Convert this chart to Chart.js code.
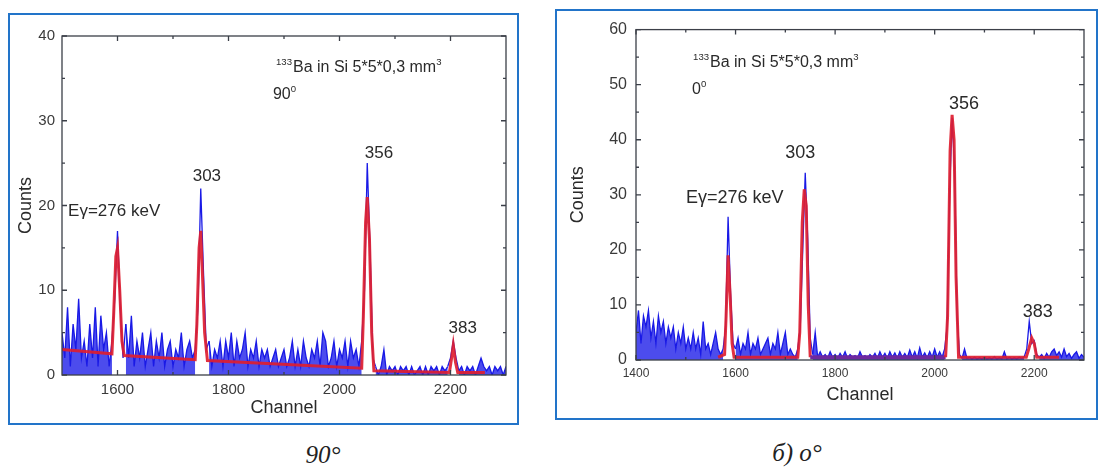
<!DOCTYPE html>
<html><head><meta charset="utf-8">
<script src="https://cdn.jsdelivr.net/npm/chart.js@4.4.0/dist/chart.umd.min.js"></script>
<style>
html,body{margin:0;padding:0;background:#fff;width:1105px;height:467px;overflow:hidden;position:relative;font-family:'Liberation Sans',Arial,sans-serif}
.frame{position:absolute;border:2px solid #2274c9;background:#fff}
#f1{left:8px;top:13px;width:507px;height:408px}
#f2{left:555px;top:9px;width:539px;height:407px}
canvas{display:block}
.cap{position:absolute;font-family:'Liberation Serif','DejaVu Serif',serif;font-style:italic;font-size:25px;color:#222;transform:translate(-50%,-50%);white-space:nowrap}
</style></head><body>
<div class="frame" id="f1"><canvas id="c1" width="507" height="408"></canvas></div>
<div class="frame" id="f2"><canvas id="c2" width="539" height="407"></canvas></div>
<div class="cap" style="left:323px;top:455px">90°</div>
<div class="cap" style="left:797px;top:453px">б) o°</div>
<script>
// ---------- DATA: left panel (90°) ----------
const leftStart = 1500, leftStep = 5;           // channel of first sample, channel spacing
const leftCounts = [
  5,2,8,1,6,3,9,2,4,1,6,2,8,1,7,3,5,1,4,9,          // 1500-1595
  17,8,2,6,2,7,1,4,2,5,1,3,5,1,4,2,5,1,3,4,         // 1600-1695
  1,3,2,5,1,3,4,2,3,8,22,12,3,4,1,3,2,4,1,4,        // 1700-1795
  2,5,1,4,2,3,5,1,3,2,4,1,3,2,3,1,2,3,1,2,          // 1800-1895
  3,1,2,4,1,3,1,4,2,1,3,2,4,1,5,4,1,2,4,1,          // 1900-1995
  3,2,4,1,4,2,3,1,4,10,25,15,2,1,0,1,3,0,1,0.5,     // 2000-2095
  1,0,1,0.5,1,0,1,0,0.5,1,0,1,0,1,0.5,1,0,1,0.5,1,  // 2100-2195
  2,4,2,0.5,1,0,1,0.5,1,0,1,2,1,0.5,1,0,1,0.5,1,0,  // 2200-2295
  1                                                 // 2300
];
const leftFitChannels = [1500,1590,1593,1597,1600,1604,1608,1612,1740,1743,1747,1750,1753,1757,1762,2040,2043,2047,2050,2054,2058,2062,2198,2202,2205,2209,2213,2262];
const leftFitCounts   = [3.0,2.5,7,14,15,10,4,2.3,1.8,6,15,17,12,5,1.7,0.8,7,18,21,16,5,0.5,0.3,2,3.5,1.5,0.3,0.3];
const leftPeakRanges = [[1590,1612],[1740,1762],[2040,2062],[2198,2213]];
const leftXTicks = [1600,1800,2000,2200];
const leftXMinor = [1700,1900,2100];
const leftYTicks = [0,10,20,30,40];
const leftYMinor = [5,15,25,35];
const leftPeakLabels = ['Eγ=276 keV','303','356','383'];
const leftPeakLabelAt = [[1511,19.35],[1761,23.4],[2071,26.1],[2222,5.5]];

// ---------- DATA: right panel (0°) ----------
const rightStart = 1400, rightStep = 5;
const rightCounts = [
  5,9,3,8,6,9,4,7,3,8,5,7,3,6,4,6,2,5,3,6,                                  // 1400-1495
  2,4,2,5,2,4,1,7,2,3,1,3,5,2,1,2,6,26,12,3,                                // 1500-1595
  2,4,1,3,2,5,1,3,2,4,1,2,3,4,1,3,2,5,1,3,                                  // 1600-1695
  5,1,2,1,0.5,2,6,20,34,22,4,1,5,0.5,1.5,0.5,1,0.3,1.5,0.5,                 // 1700-1795
  1,0.3,1.2,0.5,1.5,0.3,1,0.5,0.8,0.3,1.5,0.5,0.8,0.3,1,0.5,1.2,0.3,1.5,0.5,// 1800-1895
  1.2,0.3,1.5,0.5,1.3,0.3,1.5,0.5,1.2,0.4,1.8,0.5,1.5,0.3,2.2,0.5,1.3,0.4,1.5,0.5, // 1900-1995
  2,0.5,1.5,0.5,2,6,30,44,35,8,1,0.3,2,0.3,0.5,0.2,0.5,0.2,0.4,0.2,          // 2000-2095
  0.5,0.2,0.4,0.2,0.6,0.2,0.4,0.2,1.5,0.2,0.5,0.2,0.4,0.2,0.5,0.3,0.6,2,7,3, // 2100-2195
  3.5,1,0.5,1,0.3,1.2,0.5,1.5,2,0.8,1.5,0.5,2,0.6,1.2,0.3,1,1.5,0.3,1,       // 2200-2295
  0.5                                                                        // 2300
];
const rightFitChannels = [1565,1578,1581,1585,1589,1593,1597,1725,1729,1734,1738,1742,1746,1750,2022,2026,2031,2035,2039,2043,2048,2184,2189,2195,2200,2205,2250];
const rightFitCounts   = [0.5,1,8,19,12,3,0.5,0.5,5,25,31,28,10,0.5,0.5,8,38,44.5,40,15,0.5,0.5,2,4,3,0.5,0.5];
const rightPeakRanges = [[1575,1600],[1725,1752],[2020,2052],[2183,2207]];
const rightXTicks = [1400,1600,1800,2000,2200];
const rightXMinor = [1500,1700,1900,2100];
const rightYTicks = [0,10,20,30,40,50,60];
const rightYMinor = [5,15,25,35,45,55];
const rightPeakLabels = ['Eγ=276 keV','303','356','383'];
const rightPeakLabelAt = [[1500.5,29.4],[1730,37.5],[2059,46.5],[2207,8.8]];

// ---------- helpers ----------
const FONT = "'Liberation Sans', Arial, sans-serif";
function spectrum(start, step, vals) { return vals.map((v, i) => ({x: start + i * step, y: v})); }
function pairs(xs, ys) { return xs.map((x, i) => ({x, y: ys[i]})); }

function framePlugin(cfg) {
  return {
    id: 'frameTicks',
    afterDatasetsDraw(chart) {
      const {ctx, chartArea: a} = chart;
      const xs = chart.scales.x, ys = chart.scales.y;
      ctx.save();
      ctx.strokeStyle = '#3b3f48'; ctx.lineWidth = 1.3;
      ctx.strokeRect(a.left, a.top, a.right - a.left, a.bottom - a.top);
      ctx.beginPath();
      const vx = (vals, len) => vals.forEach(v => { const p = xs.getPixelForValue(v);
        ctx.moveTo(p, a.bottom); ctx.lineTo(p, a.bottom - len); ctx.moveTo(p, a.top); ctx.lineTo(p, a.top + len); });
      const vy = (vals, len) => vals.forEach(v => { const p = ys.getPixelForValue(v);
        ctx.moveTo(a.left, p); ctx.lineTo(a.left + len, p); ctx.moveTo(a.right, p); ctx.lineTo(a.right - len, p); });
      vx(cfg.xMajor, 5); vx(cfg.xMinor, 3); vy(cfg.yMajor, 5); vy(cfg.yMinor, 3);
      ctx.stroke();
      ctx.fillStyle = '#2a2a2a';
      cfg.labels.forEach((t, i) => {
        const [cx, cy] = cfg.labelAt[i];
        ctx.font = cfg.labelSize + 'px ' + FONT;
        ctx.textAlign = i === 0 ? 'left' : 'center'; ctx.textBaseline = 'middle';
        ctx.fillText(t, xs.getPixelForValue(cx), ys.getPixelForValue(cy));
      });
      cfg.rich.forEach(r => {
        let px = xs.getPixelForValue(r.x); const py = ys.getPixelForValue(r.y);
        ctx.textAlign = 'left'; ctx.textBaseline = 'alphabetic';
        r.parts.forEach(p => {
          const size = p.sup ? r.size * 0.6 : r.size;
          ctx.font = size + 'px ' + FONT;
          ctx.fillText(p.t, px, p.sup ? py - r.size * 0.45 : py);
          px += ctx.measureText(p.t).width + (p.sup ? 1 : 0);
        });
      });
      ctx.restore();
    }
  };
}

function makeChart(id, o) {
  const blue = 'rgb(25,25,230)';
  const inPurple = c => o.purple && c.p0.parsed.x >= o.purple[0] && c.p1.parsed.x <= o.purple[1];
  const inPeak = c => o.peaks.some(r => c.p1.parsed.x > r[0] && c.p0.parsed.x < r[1]);
  return new Chart(document.getElementById(id), {
    type: 'line',
    data: { datasets: [
      { data: o.fit, borderColor: 'rgba(222,30,48,0.92)', borderWidth: 3, pointRadius: 0, tension: 0, order: 1, fill: false,
        segment: { borderColor: c => inPurple(c) ? 'rgb(110,40,160)' : undefined,
                   borderWidth: c => inPurple(c) ? 4 : undefined } },
      { data: o.spec, borderColor: blue, borderWidth: 1.3, pointRadius: 0, tension: 0, order: 2,
        fill: 'origin', backgroundColor: 'rgba(25,25,232,0.78)',
        segment: { backgroundColor: c => inPeak(c) ? 'rgba(255,255,255,0)' : undefined } }
    ]},
    options: {
      responsive: false, animation: false, events: [],
      layout: { padding: o.pad },
      plugins: { legend: { display: false }, tooltip: { enabled: false }, filler: { propagate: false } },
      scales: {
        x: { type: 'linear', min: o.xMin, max: o.xMax,
             afterBuildTicks: s => { s.ticks = o.xTicks.map(v => ({value: v})); },
             afterFit: s => { s.height = o.xH; },
             grid: { display: false, drawTicks: false }, border: { display: false },
             ticks: { font: { family: FONT, size: o.xFont }, color: '#3a3a3a', padding: o.xPad, maxRotation: 0, autoSkip: false,
                      callback: v => String(v) },
             title: { display: true, text: 'Channel', font: { family: FONT, size: 18 }, color: '#2a2a2a', padding: { top: 0, bottom: o.xTitlePad } } },
        y: { type: 'linear', min: o.yMin, max: o.yMax,
             afterBuildTicks: s => { s.ticks = o.yTicks.map(v => ({value: v})); },
             afterFit: s => { s.width = o.yW; },
             grid: { display: false, drawTicks: false }, border: { display: false },
             ticks: { font: { family: FONT, size: o.yFont }, color: '#3a3a3a', padding: o.yPad, callback: v => String(v) },
             title: { display: true, text: 'Counts', font: { family: FONT, size: 18 }, color: '#2a2a2a', padding: { top: o.yTitlePad, bottom: 0 } } }
      }
    },
    plugins: [framePlugin(o.frame)]
  });
}

makeChart('c1', {
  spec: spectrum(leftStart, leftStep, leftCounts), fit: pairs(leftFitChannels, leftFitCounts), peaks: leftPeakRanges,
  pad: { top: 21, right: 11, left: 0, bottom: 0 }, xH: 48, yW: 52,
  xMin: 1500, xMax: 2300, yMin: 0, yMax: 40, xTicks: leftXTicks, yTicks: leftYTicks,
  xFont: 15, xPad: 6, yFont: 15, yPad: 7, xTitlePad: 4, yTitlePad: 5,
  frame: { xMajor: leftXTicks, xMinor: leftXMinor, yMajor: leftYTicks, yMinor: leftYMinor,
    labels: leftPeakLabels, labelAt: leftPeakLabelAt, labelSize: 17,
    rich: [ { x: 1885.6, y: 35.75, size: 16, parts: [{t:'133', sup:true},{t:'Ba in Si 5*5*0,3 mm'},{t:'3', sup:true}] },
            { x: 1880, y: 32.6, size: 16, parts: [{t:'90'},{t:'0', sup:true}] } ] }
});

makeChart('c2', {
  spec: spectrum(rightStart, rightStep, rightCounts), fit: pairs(rightFitChannels, rightFitCounts), peaks: rightPeakRanges,
  purple: [1748, 2024],
  pad: { top: 16, right: 12, left: 0, bottom: 0 }, xH: 58, yW: 79,
  xMin: 1400, xMax: 2300, yMin: 0, yMax: 60, xTicks: rightXTicks, yTicks: rightYTicks,
  xFont: 12, xPad: 6, yFont: 16, yPad: 9, xTitlePad: 12, yTitlePad: 10,
  frame: { xMajor: rightXTicks, xMinor: rightXMinor, yMajor: rightYTicks, yMinor: rightYMinor,
    labels: rightPeakLabels, labelAt: rightPeakLabelAt, labelSize: 18,
    rich: [ { x: 1514.6, y: 53.2, size: 16, parts: [{t:'133', sup:true},{t:'Ba in Si 5*5*0,3 mm'},{t:'3', sup:true}] },
            { x: 1512.6, y: 48.3, size: 16, parts: [{t:'0'},{t:'0', sup:true}] } ] }
});
</script>
</body></html>
